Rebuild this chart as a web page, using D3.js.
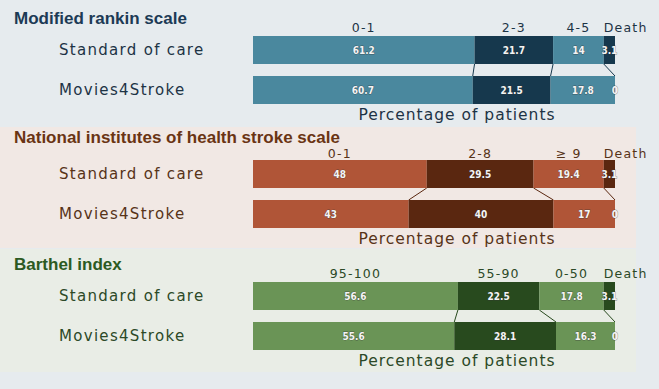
<!DOCTYPE html>
<html>
<head>
<meta charset="utf-8">
<script src="https://cdn.jsdelivr.net/npm/d3@7"></script>
<style>
  body { margin: 0; background: #e6ebee; }
  svg { display: block; }
</style>
</head>
<body>
<div id="chart"></div>
<script>
// data
var groups = ["Standard of care", "Movies4Stroke"];

var mrsCats = ["0-1", "2-3", "4-5", "Death"];
var mrsSoc = [61.2, 21.7, 14, 3.1];
var mrsM4s = [60.7, 21.5, 17.8, 0];

var nihssCats = ["0-1", "2-8", "\u2265 9", "Death"];
var nihssSoc = [48, 29.5, 19.4, 3.1];
var nihssM4s = [43, 40, 17, 0];

var barthelCats = ["95-100", "55-90", "0-50", "Death"];
var barthelSoc = [56.6, 22.5, 17.8, 3.1];
var barthelM4s = [55.6, 28.1, 16.3, 0];

var width = 659, height = 389;

var panels = [
  {title: "Modified rankin scale", cats: mrsCats, rows: [mrsSoc, mrsM4s], top: 0,
   bg: null, light: "#4a889e", dark: "#16384d", ink: "#1c3a55", sub: "#1d3345"},
  {title: "National institutes of health stroke scale", cats: nihssCats, rows: [nihssSoc, nihssM4s], top: 124,
   bg: "#f1e8e4", light: "#b05537", dark: "#5a2710", ink: "#6a3413", sub: "#573318"},
  {title: "Barthel index", cats: barthelCats, rows: [barthelSoc, barthelM4s], top: 246,
   bg: "#e9ede6", light: "#6a9456", dark: "#284a1e", ink: "#2c5a22", sub: "#2c4927"}
];

var svg = d3.select("#chart").append("svg")
    .attr("width", width)
    .attr("height", height);

var x = d3.scaleLinear().domain([0, 100]).range([253, 615]);

var labelFont = "'DejaVu Sans', sans-serif";

// panel backgrounds
svg.append("rect").attr("x", 0).attr("y", 127).attr("width", 636).attr("height", 121).attr("fill", panels[1].bg);
svg.append("rect").attr("x", 0).attr("y", 249).attr("width", 636).attr("height", 123).attr("fill", panels[2].bg);

panels.forEach(function(p, pi) {
  var g = svg.append("g").attr("transform", "translate(0," + p.top + ")");
  var y = d3.scaleBand().domain(groups).range([36, 104]).paddingInner(0.3);

  // stacked segments per row
  var stacks = p.rows.map(function(vals) {
    var acc = 0;
    return vals.map(function(v, i) {
      var s = {cat: p.cats[i], value: v, x0: acc, x1: acc + v, i: i};
      acc += v;
      return s;
    });
  });

  g.append("text")
    .attr("x", 14).attr("y", pi == 1 ? 19 : 24)
    .attr("fill", p.ink)
    .style("font", "bold 17px 'Liberation Sans', Arial, sans-serif")
    .text(p.title);

  // category headers above the top bar
  g.selectAll("text.cat")
    .data(stacks[0])
    .join("text")
    .attr("class", "cat")
    .attr("x", d => d.cat == "Death" ? x(d.x0) : x((d.x0 + d.x1) / 2))
    .attr("y", pi == 1 ? 34 : 32)
    .attr("text-anchor", d => d.cat == "Death" ? "start" : "middle")
    .attr("fill", p.sub)
    .style("font", "12.5px " + labelFont)
    .style("letter-spacing", "1.2px")
    .text(d => d.cat);

  // row labels
  g.selectAll("text.grp")
    .data(groups)
    .join("text")
    .attr("class", "grp")
    .attr("x", 59)
    .attr("y", d => y(d) + y.bandwidth() / 2 + 5)
    .attr("fill", p.sub)
    .style("font", "15px " + labelFont)
    .style("letter-spacing", "1.3px")
    .text(d => d);

  // connectors between the two bars
  var links = d3.range(p.cats.length - 1).map(i => [stacks[0][i].x1, stacks[1][i].x1]);
  g.selectAll("line.link")
    .data(links)
    .join("line")
    .attr("x1", d => x(d[0]))
    .attr("x2", d => x(d[1]))
    .attr("y1", y(groups[0]) + y.bandwidth())
    .attr("y2", y(groups[1]))
    .attr("stroke", p.dark)
    .attr("stroke-width", 1);

  stacks.forEach(function(row, ri) {
    var rg = g.append("g");
    rg.selectAll("rect")
      .data(row)
      .join("rect")
      .attr("x", d => x(d.x0))
      .attr("width", d => x(d.x1) - x(d.x0))
      .attr("y", y(groups[ri]))
      .attr("height", y.bandwidth())
      .attr("fill", d => d.i % 2 ? p.dark : p.light);

    rg.selectAll("text")
      .data(row)
      .join("text")
      .attr("x", d => x((d.x0 + d.x1) / 2))
      .attr("y", y(groups[ri]) + y.bandwidth() / 2 + 3.5)
      .attr("text-anchor", "middle")
      .attr("fill", "#f4f4f4")
      .attr("stroke", "#333")
      .attr("stroke-width", 0.8)
      .attr("stroke-opacity", 0.6)
      .style("paint-order", "stroke")
      .style("font", "bold 10px 'DejaVu Sans Condensed', 'Liberation Sans Narrow', sans-serif")
      .style("font-stretch", "condensed")
      .text(d => d.value);
  });

  g.append("text")
    .attr("x", 457).attr("y", 120)
    .attr("text-anchor", "middle")
    .attr("fill", p.sub)
    .style("font", "15.5px " + labelFont)
    .style("letter-spacing", "1px")
    .text("Percentage of patients");
});
</script>
</body>
</html>
